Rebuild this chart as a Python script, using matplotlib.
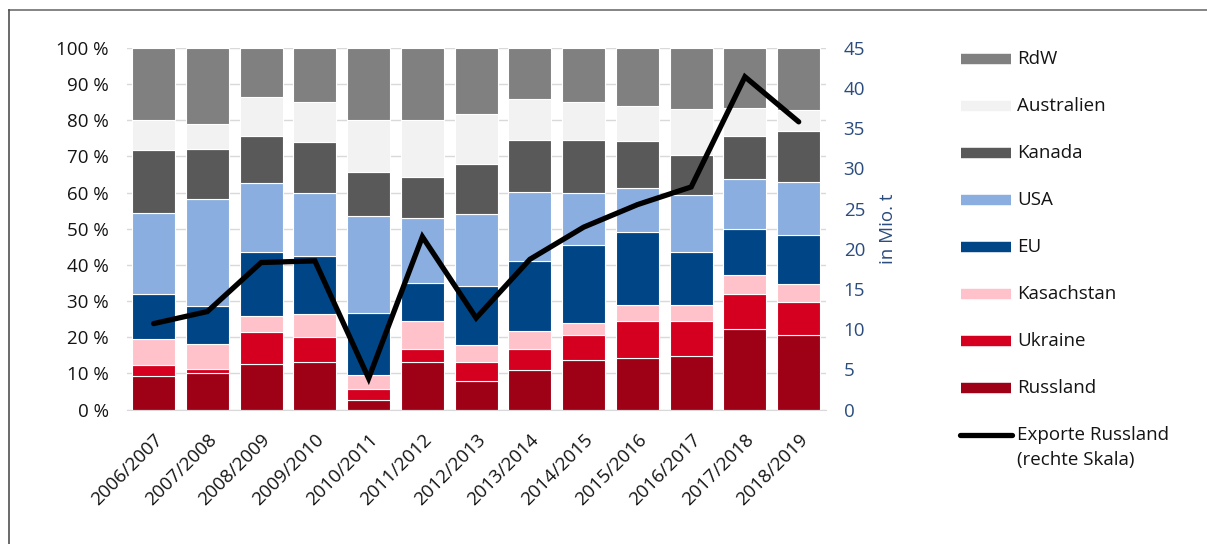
import matplotlib.pyplot as plt
from matplotlib.lines import Line2D
from matplotlib.ticker import FuncFormatter

plt.rcParams['font.family'] = ['Open Sans', 'DejaVu Sans']

# Wirtschaftsjahre
jahre = ['2006/2007', '2007/2008', '2008/2009', '2009/2010', '2010/2011',
         '2011/2012', '2012/2013', '2013/2014', '2014/2015', '2015/2016',
         '2016/2017', '2017/2018', '2018/2019']

# Anteile am Weltexport in % (von unten nach oben)
russland = [9.4, 10.1, 12.5, 13.3, 2.6, 13.3, 7.8, 10.9, 13.7, 14.4, 14.8, 22.4, 20.5]
ukraine = [2.9, 1.1, 8.9, 6.7, 3.2, 3.5, 5.4, 5.8, 6.8, 10.2, 9.8, 9.7, 9.2]
kasachstan = [7.3, 6.9, 4.4, 6.3, 3.8, 7.6, 4.6, 5.0, 3.4, 4.4, 4.2, 5.1, 5.0]
eu = [12.5, 10.6, 17.7, 16.1, 17.2, 10.6, 16.3, 19.4, 21.5, 20.2, 14.9, 12.8, 13.5]
usa = [22.3, 29.6, 19.2, 17.6, 26.6, 18.1, 20.1, 19.1, 14.5, 12.2, 15.7, 13.7, 14.7]
kanada = [17.5, 13.8, 13.0, 13.9, 12.4, 11.1, 13.7, 14.2, 14.7, 12.8, 11.0, 11.9, 14.2]
australien = [8.1, 6.8, 10.6, 11.2, 14.3, 15.9, 13.8, 11.4, 10.3, 9.7, 12.6, 7.9, 5.6]
rdw = [20.0, 21.1, 13.7, 14.9, 19.9, 19.9, 18.3, 14.2, 15.1, 16.1, 17.0, 16.5, 17.3]

# Exporte Russland in Mio. t (rechte Skala)
exporte_russland = [10.7, 12.2, 18.3, 18.5, 3.9, 21.5, 11.4, 18.7, 22.7, 25.5, 27.7, 41.4, 35.8]

serien = [('Russland', russland, '#9E0016'),
          ('Ukraine', ukraine, '#D50020'),
          ('Kasachstan', kasachstan, '#FFC2CB'),
          ('EU', eu, '#004586'),
          ('USA', usa, '#8AAEE0'),
          ('Kanada', kanada, '#595959'),
          ('Australien', australien, '#F2F2F2'),
          ('RdW', rdw, '#808080')]

blau = '#2B4C7E'
textfarbe = '#141414'

fig = plt.figure(figsize=(12.07, 5.44), dpi=100)
ax = fig.add_axes([0.105, 0.247, 0.579, 0.665])

x = range(len(jahre))
unten = [0.0] * len(jahre)
for name, werte, farbe in serien:
    ax.bar(x, werte, width=0.8, bottom=unten, color=farbe,
           edgecolor='white', linewidth=0.8)
    unten = [u + w for u, w in zip(unten, werte)]

ax.set_xlim(-0.5, len(jahre) - 0.5)
ax.set_ylim(0, 100)
ax.set_yticks(range(0, 101, 10))
ax.yaxis.set_major_formatter(FuncFormatter(lambda v, p: '%d %%' % v))
ax.set_axisbelow(True)
ax.grid(axis='y', color='#D9D9D9', linewidth=1)
for s in ['top', 'right', 'left']:
    ax.spines[s].set_visible(False)
ax.spines['bottom'].set_color('#D9D9D9')
ax.tick_params(axis='y', length=0, pad=13, labelsize=13.5, colors=textfarbe)
ax.tick_params(axis='x', length=0, pad=15, labelsize=13.5, colors=textfarbe)
ax.set_xticks(list(x))
ax.set_xticklabels(jahre, rotation=45, ha='right', va='top',
                   rotation_mode='anchor')

ax2 = ax.twinx()
ax2.plot(x, exporte_russland, color='black', linewidth=3.8,
         solid_capstyle='round', solid_joinstyle='miter')
ax2.set_ylim(0, 45)
ax2.set_yticks(range(0, 46, 5))
for s in ax2.spines.values():
    s.set_visible(False)
ax2.tick_params(axis='y', length=0, pad=13, labelsize=13.5, colors=blau)
ax2.set_ylabel('in Mio. t', color=blau, fontsize=13.5, labelpad=10)

# Legende rechts
W, H = fig.get_size_inches() * fig.dpi
for i, (name, werte, farbe) in enumerate(reversed(serien)):
    y = 1 - (59 + i * 47) / H
    fig.add_artist(Line2D([961 / W, 1011 / W], [y, y], color=farbe,
                          linewidth=7.5, solid_capstyle='butt'))
    fig.text(1017 / W, y, name, fontsize=13.5, va='center', color=textfarbe)
y = 1 - 435 / H
fig.add_artist(Line2D([960 / W, 1012 / W], [y, y], color='black',
                      linewidth=3.8, solid_capstyle='round'))
fig.text(1017 / W, y, 'Exporte Russland', fontsize=13.5, va='center', color=textfarbe)
fig.text(1017 / W, 1 - 460 / H, '(rechte Skala)', fontsize=13.5, va='center', color=textfarbe)

# Rahmen
fig.add_artist(Line2D([9 / W, 1], [1 - 10 / H, 1 - 10 / H], color='#707070', linewidth=1.2))
fig.add_artist(Line2D([9 / W, 9 / W], [0, 1 - 10 / H], color='#505050', linewidth=1.2))

fig.savefig('out.png', dpi=100)
